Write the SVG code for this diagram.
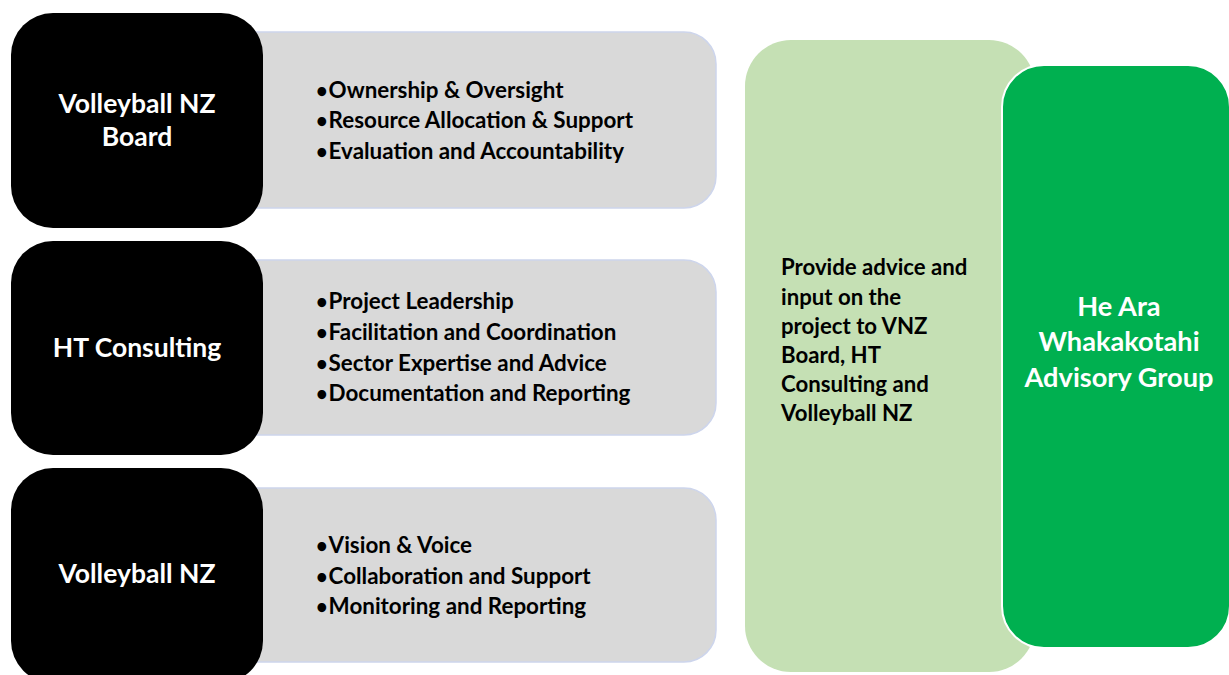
<svg xmlns="http://www.w3.org/2000/svg" width="1229" height="675" viewBox="0 0 1229 675">
<style>
.blk{fill:#000000}
.gry{fill:#d9d9d9;stroke:#cdd5ec;stroke-width:1.5}
.lbl{font-family:Lato,"Open Sans",sans-serif;font-weight:bold;fill:#ffffff;font-size:26.5px;text-anchor:middle}
.bul{font-family:Lato,"Open Sans",sans-serif;font-weight:bold;fill:#000000;font-size:22.4px}
.dot{font-size:20px}
.adv{font-family:Lato,"Open Sans",sans-serif;font-weight:bold;fill:#000000;font-size:22.2px}
.ara{font-family:Lato,"Open Sans",sans-serif;font-weight:bold;fill:#ffffff;font-size:27.2px;text-anchor:middle}
</style>
<rect width="1229" height="675" fill="#ffffff"/>
<g id="board-details">
<rect class="gry" x="220" y="32" width="496" height="176" rx="32"/>
<text class="bul" x="316" y="98"><tspan class="dot">•</tspan><tspan dx="1">Ownership &amp; Oversight</tspan></text>
<text class="bul" x="316" y="128"><tspan class="dot">•</tspan><tspan dx="1">Resource Allocation &amp; Support</tspan></text>
<text class="bul" x="316" y="159"><tspan class="dot">•</tspan><tspan dx="1">Evaluation and Accountability</tspan></text>
</g>
<g id="board">
<rect class="blk" x="11" y="13" width="252" height="215" rx="42"/>
<text class="lbl" x="137" y="113">Volleyball NZ</text>
<text class="lbl" x="137" y="146">Board</text>
</g>
<g id="ht-details">
<rect class="gry" x="220" y="260" width="496" height="175" rx="32"/>
<text class="bul" x="316" y="309"><tspan class="dot">•</tspan><tspan dx="1">Project Leadership</tspan></text>
<text class="bul" x="316" y="340"><tspan class="dot">•</tspan><tspan dx="1">Facilitation and Coordination</tspan></text>
<text class="bul" x="316" y="371"><tspan class="dot">•</tspan><tspan dx="1">Sector Expertise and Advice</tspan></text>
<text class="bul" x="316" y="401"><tspan class="dot">•</tspan><tspan dx="1">Documentation and Reporting</tspan></text>
</g>
<g id="ht">
<rect class="blk" x="11" y="241" width="252" height="214" rx="42"/>
<text class="lbl" x="137" y="357">HT Consulting</text>
</g>
<g id="vnz-details">
<rect class="gry" x="220" y="488" width="496" height="174" rx="32"/>
<text class="bul" x="316" y="553"><tspan class="dot">•</tspan><tspan dx="1">Vision &amp; Voice</tspan></text>
<text class="bul" x="316" y="584"><tspan class="dot">•</tspan><tspan dx="1">Collaboration and Support</tspan></text>
<text class="bul" x="316" y="614"><tspan class="dot">•</tspan><tspan dx="1">Monitoring and Reporting</tspan></text>
</g>
<g id="vnz">
<rect class="blk" x="11" y="468" width="252" height="215" rx="42"/>
<text class="lbl" x="137" y="583">Volleyball NZ</text>
</g>
<g id="advice">
<rect x="745" y="40" width="290" height="632" rx="46" fill="#c5e0b4"/>
<text class="adv" x="781" y="275">Provide advice and</text>
<text class="adv" x="781" y="305">input on the</text>
<text class="adv" x="781" y="334">project to VNZ</text>
<text class="adv" x="781" y="363">Board, HT</text>
<text class="adv" x="781" y="392">Consulting and</text>
<text class="adv" x="781" y="421">Volleyball NZ</text>
</g>
<g id="advisory-group">
<rect x="1002" y="65" width="228" height="583" rx="42" fill="#00b050" stroke="#ffffff" stroke-width="2"/>
<text class="ara" x="1119" y="316">He Ara</text>
<text class="ara" x="1119" y="351">Whakakotahi</text>
<text class="ara" x="1119" y="387">Advisory Group</text>
</g>
<g id="connectors"></g>
</svg>
